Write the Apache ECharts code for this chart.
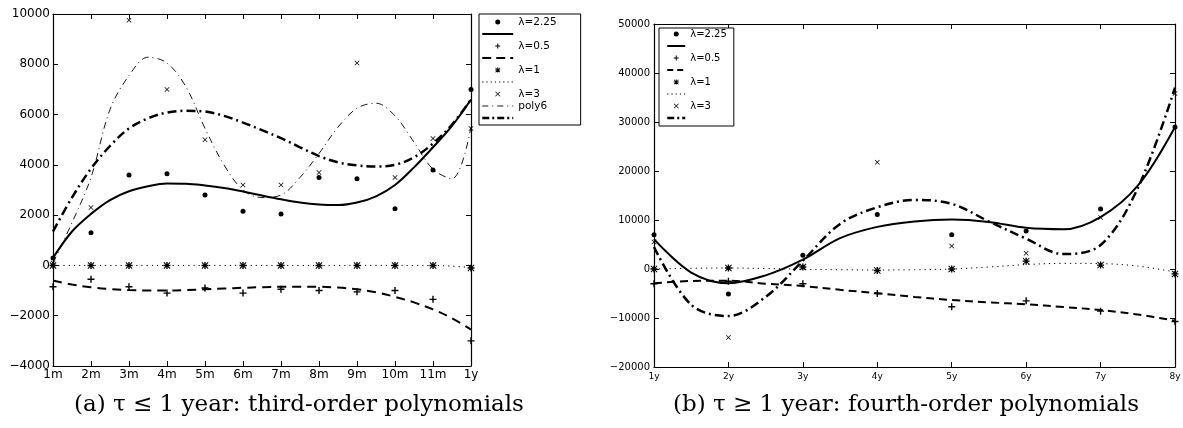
<!DOCTYPE html>
<html><head><meta charset="utf-8">
<script src="https://cdn.jsdelivr.net/npm/echarts@6/dist/echarts.min.js"></script>
<style>html,body{margin:0;padding:0;background:#fff}#c{width:1183px;height:428px}</style>
</head><body><div id="c"></div>
<script>
// ---------- data: left panel (tau <= 1 year) ----------
const leftTicks = ['1m','2m','3m','4m','5m','6m','7m','8m','9m','10m','11m','1y'];
const leftX = [1,2,3,4,5,6,7,8,9,10,11,12];
const leftL225 = [300, 1300, 3600, 3650, 2800, 2150, 2050, 3500, 3450, 2250, 3800, 7000];
const leftL05  = [-850, -550, -850, -1100, -900, -1100, -950, -1000, -1050, -1000, -1350, -3000];
const leftL1   = [0, 0, 0, 0, 0, 0, 0, 0, 0, 0, 0, -100];
const leftL3   = [100, 2300, 9750, 7000, 5000, 3200, 3200, 3700, 8050, 3500, 5050, 5450];
const leftCurveX = [1,1.5,2,2.5,3,3.5,4,4.5,5,5.5,6,6.5,7,7.5,8,8.5,9,9.5,10,10.5,11,11.5,12];
const leftFit225 = [300,1350,2050,2600,2950,3150,3260,3250,3180,3080,2940,2780,2630,2500,2420,2400,2500,2750,3200,3900,4700,5550,6600];
const leftFit05  = [-600,-760,-870,-940,-980,-1000,-1000,-980,-950,-920,-890,-865,-850,-845,-850,-880,-950,-1070,-1250,-1470,-1750,-2100,-2550];
const leftFit1   = [0,0,0,0,0,0,0,0,0,0,0,0,0,0,0,0,0,0,0,0,0,-30,-80];
const leftFit3   = [1350,2700,3850,4750,5450,5850,6080,6150,6120,5950,5680,5380,5060,4700,4350,4100,3980,3930,4000,4300,4850,5600,6600];
const leftPoly6  = [100,1700,3500,6200,7550,8280,8050,7100,5450,4000,3000,2700,2800,3500,4450,5500,6250,6450,5950,4900,3830,3450,5500];

// ---------- data: right panel (tau >= 1 year) ----------
const rightTicks = ['1y','2y','3y','4y','5y','6y','7y','8y'];
const rightX = [1,2,3,4,5,6,7,8];
const rightL225 = [7000, -5100, 2800, 11100, 7000, 7750, 12250, 29000];
const rightL05  = [-3000, -2500, -3000, -5000, -7700, -6500, -8600, -10700];
const rightL1   = [0, 200, 400, -300, 0, 1600, 800, -1000];
const rightL3   = [5500, -14000, 300, 21800, 4700, 3200, 10500, 35800];
const rightCurveX = [1,1.5,2,2.5,3,3.5,4,4.5,5,5.5,6,6.5,7,7.5,8];
const rightFit225 = [6100,-730,-2900,-1300,1900,6300,8600,9700,10100,9600,8400,8100,10600,17000,29000];
const rightFit05  = [-2900,-2450,-2380,-3000,-3470,-4250,-4950,-5700,-6330,-6800,-7210,-7750,-8370,-9300,-10540];
const rightFit1   = [0,150,200,100,-50,-150,-200,-150,0,400,900,1150,1100,600,-600];
const rightFit3   = [4500,-7300,-9600,-5700,1700,9200,12600,14100,13300,9700,6200,3050,4900,16500,37000];

const captionA = '(a) \u03c4 \u2264 1 year: third-order polynomials';
const captionB = '(b) \u03c4 \u2265 1 year: fourth-order polynomials';

// ---------- styles ----------
const Z1 = '\u200b', Z2 = '\u200b\u200b', Z3 = '\u200b\u200b\u200b', Z4 = '\u200b\u200b\u200b\u200b';
const PLUS = 'path://M4,0H6V4H10V6H6V10H4V6H0V4H4Z';
const CROSS = 'path://M1,0L5,4L9,0L10,1L6,5L10,9L9,10L5,6L1,10L0,9L4,5L0,1Z';
const STAR = 'path://M4,0H6V4H10V6H6V10H4V6H0V4H4Z M1,0L5,4L9,0L10,1L6,5L10,9L9,10L5,6L1,10L0,9L4,5L0,1Z';
const FONT = 'DejaVu Sans';

const stSolid = {color:'#000', width:2, type:'solid'};
const stDashL = {color:'#000', width:2, type:[9,6]};
const stDashR = {color:'#000', width:2, type:[8,5]};
const stDot = {color:'#000', width:1, type:[1.2,4]};
const stDashDot = {color:'#000', width:2.5, type:[9,4,2,4]};
const stThin = {color:'#000', width:0.9, type:[7,4,1,4]};

function pts(xs, ys){ return xs.map((x,i)=>[x, ys[i]]); }
function line(name, xs, ys, ai, style){
  return {type:'line', name, xAxisIndex:ai, yAxisIndex:ai, data:pts(xs,ys), symbol:'none',
    smooth:0.35, lineStyle:style, itemStyle:{color:'#000'}, z:2, silent:true, animation:false};
}
function scat(name, xs, ys, ai, symbol, size){
  return {type:'scatter', name, xAxisIndex:ai, yAxisIndex:ai, data:pts(xs,ys), symbol, symbolSize:size,
    itemStyle:{color:'#000', opacity:1}, z:3, silent:true, animation:false};
}
const minus = v => String(v).replace('-', '\u2212');

function axesX(gi, min, max, ticks, fs, margin){
  return [
    {type:'value', gridIndex:gi, min, max, interval:1, position:'bottom',
      axisLine:{show:true, onZero:false, lineStyle:{color:'#000', width:1.2}},
      axisTick:{show:true, inside:true, length:5, lineStyle:{color:'#000'}},
      splitLine:{show:false},
      axisLabel:{show:true, margin, color:'#000', fontFamily:FONT, fontSize:fs, formatter:v=>ticks[v-1]}},
    {type:'value', gridIndex:gi, min, max, interval:1, position:'top',
      axisLine:{show:true, onZero:false, lineStyle:{color:'#000', width:1.2}},
      axisTick:{show:true, inside:true, length:5, lineStyle:{color:'#000'}},
      splitLine:{show:false}, axisLabel:{show:false}}
  ];
}
function axesY(gi, min, max, interval, fs, margin){
  return [
    {type:'value', gridIndex:gi, min, max, interval, position:'left',
      axisLine:{show:true, onZero:false, lineStyle:{color:'#000', width:1.2}},
      axisTick:{show:true, inside:true, length:5, lineStyle:{color:'#000'}},
      splitLine:{show:false},
      axisLabel:{show:true, margin, color:'#000', fontFamily:FONT, fontSize:fs, formatter:minus}},
    {type:'value', gridIndex:gi, min, max, interval, position:'right',
      axisLine:{show:true, onZero:false, lineStyle:{color:'#000', width:1.2}},
      axisTick:{show:true, inside:true, length:5, lineStyle:{color:'#000'}},
      splitLine:{show:false}, axisLabel:{show:false}}
  ];
}

const NOSYM = {color:'rgba(0,0,0,0)', borderColor:'rgba(0,0,0,0)', borderWidth:0};
const legData = (withPoly, wDash) => {
  const d = [
    {name:'\u03bb=2.25'},
    {name:Z1, lineStyle:{width:2, type:'solid', color:'#000', opacity:1}, itemStyle:NOSYM},
    {name:'\u03bb=0.5'},
    {name:Z2, lineStyle:{width:2, type:wDash, color:'#000', opacity:1}, itemStyle:NOSYM},
    {name:'\u03bb=1'},
    {name:Z3, lineStyle:{width:1, type:[1.2,3], color:'#000', opacity:1}, itemStyle:NOSYM},
    {name:'\u03bb=3'}
  ];
  if (withPoly) d.push({name:'poly6', lineStyle:{width:0.9, type:[6,4,1,4], color:'#000', opacity:1}, itemStyle:NOSYM});
  d.push({name:Z4, lineStyle:{width:2.5, type:[7,3,2,3], color:'#000', opacity:1}, itemStyle:NOSYM});
  return d;
};

const option = {
  animation:false,
  backgroundColor:'#fff',
  title:[
    {text:captionA, left:74, top:394, padding:0, textStyle:{fontFamily:'DejaVu Serif', fontSize:23, fontWeight:'normal', color:'#000'}},
    {text:captionB, left:673, top:394, padding:0, textStyle:{fontFamily:'DejaVu Serif', fontSize:23, fontWeight:'normal', color:'#000'}}
  ],
  grid:[
    {left:53, top:14, width:418, height:352, outerBoundsMode:'none'},
    {left:654, top:24, width:521, height:343, outerBoundsMode:'none'}
  ],
  xAxis:[...axesX(0,1,12,leftTicks,12,3), ...axesX(1,1,8,rightTicks,9,5)],
  yAxis:[...axesY(0,-4000,10000,2000,12,3), ...axesY(2,-20000,50000,10000,10,4)].map((a,i)=>Object.assign(a,{gridIndex: i<2?0:1})),
  legend:[
    {left:479, top:14, orient:'vertical', itemWidth:31, itemHeight:5, itemGap:0,
      padding:[2,24,1,2], borderColor:'#000', borderWidth:1, backgroundColor:'#fff', selectedMode:false,
      textStyle:{fontFamily:FONT, fontSize:10.5, color:'#000', lineHeight:12}, data:legData(true,[9,5])},
    {left:659, top:28, orient:'vertical', itemWidth:18, itemHeight:5, itemGap:0,
      padding:[0,7,2,7], borderColor:'#000', borderWidth:1, backgroundColor:'#fff', selectedMode:false,
      textStyle:{fontFamily:FONT, fontSize:10, color:'#000', lineHeight:12}, data:legData(false,[6,4])}
  ],
  series:[
    scat('\u03bb=2.25', leftX, leftL225, 0, 'circle', 5),
    line(Z1, leftCurveX, leftFit225, 0, stSolid),
    scat('\u03bb=0.5', leftX, leftL05, 0, PLUS, 7),
    line(Z2, leftCurveX, leftFit05, 0, stDashL),
    scat('\u03bb=1', leftX, leftL1, 0, STAR, 7),
    line(Z3, leftCurveX, leftFit1, 0, stDot),
    scat('\u03bb=3', leftX, leftL3, 0, CROSS, 5),
    line('poly6', leftCurveX, leftPoly6, 0, stThin),
    line(Z4, leftCurveX, leftFit3, 0, stDashDot),

    scat('\u03bb=2.25', rightX, rightL225, 2, 'circle', 5),
    line(Z1, rightCurveX, rightFit225, 2, stSolid),
    scat('\u03bb=0.5', rightX, rightL05, 2, PLUS, 7),
    line(Z2, rightCurveX, rightFit05, 2, stDashR),
    scat('\u03bb=1', rightX, rightL1, 2, STAR, 7),
    line(Z3, rightCurveX, rightFit1, 2, stDot),
    scat('\u03bb=3', rightX, rightL3, 2, CROSS, 5),
    line(Z4, rightCurveX, rightFit3, 2, stDashDot)
  ]
};
const chart = echarts.init(document.getElementById('c'), null, {renderer:'canvas'});
chart.setOption(option);
</script></body></html>
